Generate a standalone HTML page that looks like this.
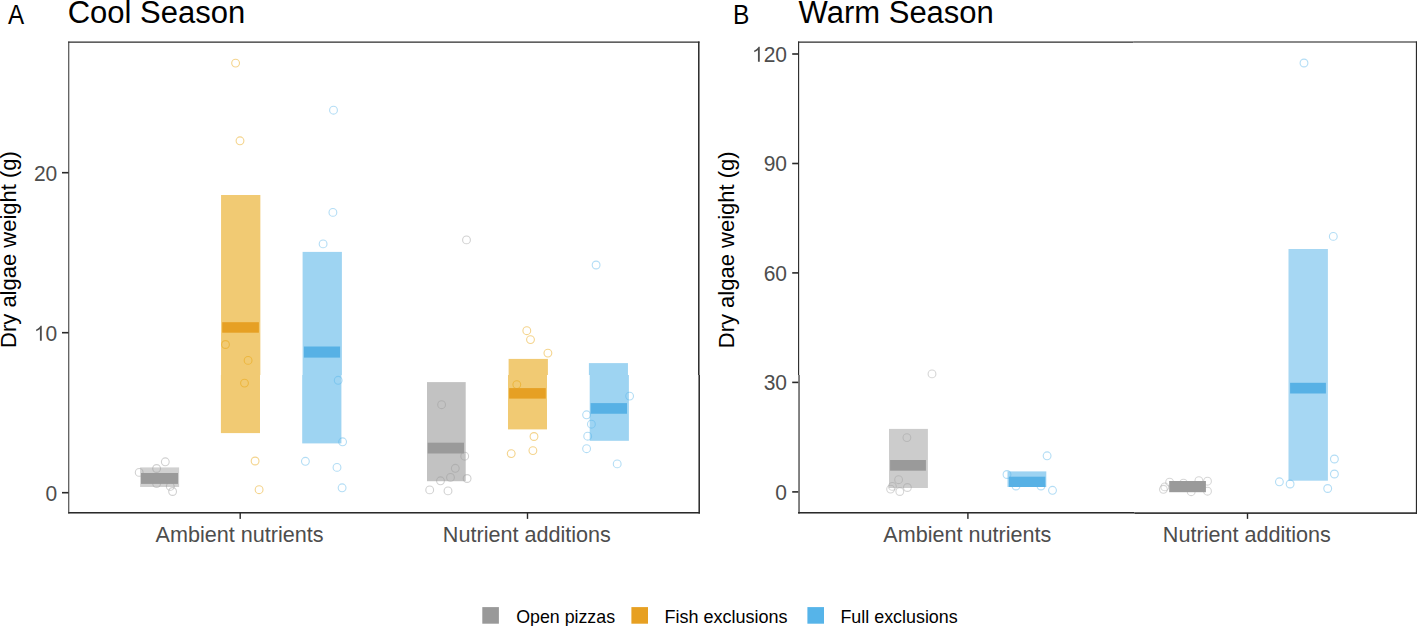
<!DOCTYPE html>
<html><head><meta charset="utf-8"><style>
html,body{margin:0;padding:0;background:#fff;width:1417px;height:626px;overflow:hidden}
svg{display:block;font-family:"Liberation Sans",sans-serif}
</style></head><body><svg width="1417" height="626" viewBox="0 0 1417 626" font-family="Liberation Sans, sans-serif"><circle cx="165.3" cy="461.8" r="3.9" fill="none" stroke="#999999" stroke-opacity="0.45" stroke-width="1.1"/><circle cx="156.6" cy="468.5" r="3.9" fill="none" stroke="#999999" stroke-opacity="0.45" stroke-width="1.1"/><circle cx="139.2" cy="472.4" r="3.9" fill="none" stroke="#999999" stroke-opacity="0.45" stroke-width="1.1"/><circle cx="156.6" cy="483.5" r="3.9" fill="none" stroke="#999999" stroke-opacity="0.45" stroke-width="1.1"/><circle cx="170.3" cy="486.4" r="3.9" fill="none" stroke="#999999" stroke-opacity="0.45" stroke-width="1.1"/><circle cx="172.6" cy="491.5" r="3.9" fill="none" stroke="#999999" stroke-opacity="0.45" stroke-width="1.1"/><circle cx="466.5" cy="239.9" r="3.9" fill="none" stroke="#999999" stroke-opacity="0.45" stroke-width="1.1"/><circle cx="441.6" cy="404.7" r="3.9" fill="none" stroke="#999999" stroke-opacity="0.45" stroke-width="1.1"/><circle cx="464.7" cy="456.2" r="3.9" fill="none" stroke="#999999" stroke-opacity="0.45" stroke-width="1.1"/><circle cx="455.3" cy="468.3" r="3.9" fill="none" stroke="#999999" stroke-opacity="0.45" stroke-width="1.1"/><circle cx="450.5" cy="477.4" r="3.9" fill="none" stroke="#999999" stroke-opacity="0.45" stroke-width="1.1"/><circle cx="440.5" cy="480.8" r="3.9" fill="none" stroke="#999999" stroke-opacity="0.45" stroke-width="1.1"/><circle cx="467.1" cy="478.5" r="3.9" fill="none" stroke="#999999" stroke-opacity="0.45" stroke-width="1.1"/><circle cx="429.7" cy="489.9" r="3.9" fill="none" stroke="#999999" stroke-opacity="0.45" stroke-width="1.1"/><circle cx="448.0" cy="490.9" r="3.9" fill="none" stroke="#999999" stroke-opacity="0.45" stroke-width="1.1"/><circle cx="235.6" cy="63.1" r="3.9" fill="none" stroke="#E69F00" stroke-opacity="0.45" stroke-width="1.1"/><circle cx="240.0" cy="140.8" r="3.9" fill="none" stroke="#E69F00" stroke-opacity="0.45" stroke-width="1.1"/><circle cx="225.5" cy="344.5" r="3.9" fill="none" stroke="#E69F00" stroke-opacity="0.45" stroke-width="1.1"/><circle cx="248.1" cy="360.4" r="3.9" fill="none" stroke="#E69F00" stroke-opacity="0.45" stroke-width="1.1"/><circle cx="244.5" cy="383.1" r="3.9" fill="none" stroke="#E69F00" stroke-opacity="0.45" stroke-width="1.1"/><circle cx="255.1" cy="461.0" r="3.9" fill="none" stroke="#E69F00" stroke-opacity="0.45" stroke-width="1.1"/><circle cx="259.1" cy="489.7" r="3.9" fill="none" stroke="#E69F00" stroke-opacity="0.45" stroke-width="1.1"/><circle cx="526.8" cy="330.7" r="3.9" fill="none" stroke="#E69F00" stroke-opacity="0.45" stroke-width="1.1"/><circle cx="530.5" cy="339.6" r="3.9" fill="none" stroke="#E69F00" stroke-opacity="0.45" stroke-width="1.1"/><circle cx="547.9" cy="353.1" r="3.9" fill="none" stroke="#E69F00" stroke-opacity="0.45" stroke-width="1.1"/><circle cx="516.8" cy="384.6" r="3.9" fill="none" stroke="#E69F00" stroke-opacity="0.45" stroke-width="1.1"/><circle cx="534.0" cy="436.5" r="3.9" fill="none" stroke="#E69F00" stroke-opacity="0.45" stroke-width="1.1"/><circle cx="532.9" cy="450.6" r="3.9" fill="none" stroke="#E69F00" stroke-opacity="0.45" stroke-width="1.1"/><circle cx="511.2" cy="453.6" r="3.9" fill="none" stroke="#E69F00" stroke-opacity="0.45" stroke-width="1.1"/><circle cx="333.5" cy="110.2" r="3.9" fill="none" stroke="#56B4E9" stroke-opacity="0.45" stroke-width="1.1"/><circle cx="332.9" cy="212.4" r="3.9" fill="none" stroke="#56B4E9" stroke-opacity="0.45" stroke-width="1.1"/><circle cx="323.1" cy="243.9" r="3.9" fill="none" stroke="#56B4E9" stroke-opacity="0.45" stroke-width="1.1"/><circle cx="338.2" cy="380.3" r="3.9" fill="none" stroke="#56B4E9" stroke-opacity="0.45" stroke-width="1.1"/><circle cx="342.6" cy="441.8" r="3.9" fill="none" stroke="#56B4E9" stroke-opacity="0.45" stroke-width="1.1"/><circle cx="305.4" cy="461.3" r="3.9" fill="none" stroke="#56B4E9" stroke-opacity="0.45" stroke-width="1.1"/><circle cx="337.0" cy="467.4" r="3.9" fill="none" stroke="#56B4E9" stroke-opacity="0.45" stroke-width="1.1"/><circle cx="342.1" cy="487.8" r="3.9" fill="none" stroke="#56B4E9" stroke-opacity="0.45" stroke-width="1.1"/><circle cx="596.1" cy="265.0" r="3.9" fill="none" stroke="#56B4E9" stroke-opacity="0.45" stroke-width="1.1"/><circle cx="629.6" cy="396.1" r="3.9" fill="none" stroke="#56B4E9" stroke-opacity="0.45" stroke-width="1.1"/><circle cx="586.6" cy="414.8" r="3.9" fill="none" stroke="#56B4E9" stroke-opacity="0.45" stroke-width="1.1"/><circle cx="591.4" cy="424.2" r="3.9" fill="none" stroke="#56B4E9" stroke-opacity="0.45" stroke-width="1.1"/><circle cx="587.7" cy="436.2" r="3.9" fill="none" stroke="#56B4E9" stroke-opacity="0.45" stroke-width="1.1"/><circle cx="586.6" cy="448.7" r="3.9" fill="none" stroke="#56B4E9" stroke-opacity="0.45" stroke-width="1.1"/><circle cx="617.2" cy="463.9" r="3.9" fill="none" stroke="#56B4E9" stroke-opacity="0.45" stroke-width="1.1"/><circle cx="932.0" cy="373.9" r="3.9" fill="none" stroke="#999999" stroke-opacity="0.4" stroke-width="1.1"/><circle cx="906.9" cy="437.6" r="3.9" fill="none" stroke="#999999" stroke-opacity="0.4" stroke-width="1.1"/><circle cx="898.6" cy="479.7" r="3.9" fill="none" stroke="#999999" stroke-opacity="0.4" stroke-width="1.1"/><circle cx="892.4" cy="486.4" r="3.9" fill="none" stroke="#999999" stroke-opacity="0.4" stroke-width="1.1"/><circle cx="890.6" cy="489.1" r="3.9" fill="none" stroke="#999999" stroke-opacity="0.4" stroke-width="1.1"/><circle cx="899.8" cy="491.5" r="3.9" fill="none" stroke="#999999" stroke-opacity="0.4" stroke-width="1.1"/><circle cx="907.4" cy="487.5" r="3.9" fill="none" stroke="#999999" stroke-opacity="0.4" stroke-width="1.1"/><circle cx="1169.6" cy="482.2" r="3.9" fill="none" stroke="#999999" stroke-opacity="0.4" stroke-width="1.1"/><circle cx="1164.8" cy="486.9" r="3.9" fill="none" stroke="#999999" stroke-opacity="0.4" stroke-width="1.1"/><circle cx="1163.4" cy="489.3" r="3.9" fill="none" stroke="#999999" stroke-opacity="0.4" stroke-width="1.1"/><circle cx="1183.5" cy="483.1" r="3.9" fill="none" stroke="#999999" stroke-opacity="0.4" stroke-width="1.1"/><circle cx="1198.9" cy="480.7" r="3.9" fill="none" stroke="#999999" stroke-opacity="0.4" stroke-width="1.1"/><circle cx="1207.5" cy="481.2" r="3.9" fill="none" stroke="#999999" stroke-opacity="0.4" stroke-width="1.1"/><circle cx="1207.5" cy="491.2" r="3.9" fill="none" stroke="#999999" stroke-opacity="0.4" stroke-width="1.1"/><circle cx="1191.2" cy="491.7" r="3.9" fill="none" stroke="#999999" stroke-opacity="0.4" stroke-width="1.1"/><circle cx="1047.1" cy="455.8" r="3.9" fill="none" stroke="#56B4E9" stroke-opacity="0.45" stroke-width="1.1"/><circle cx="1007.0" cy="474.5" r="3.9" fill="none" stroke="#56B4E9" stroke-opacity="0.45" stroke-width="1.1"/><circle cx="1052.5" cy="490.3" r="3.9" fill="none" stroke="#56B4E9" stroke-opacity="0.45" stroke-width="1.1"/><circle cx="1016" cy="486" r="3.9" fill="none" stroke="#56B4E9" stroke-opacity="0.45" stroke-width="1.1"/><circle cx="1041" cy="486" r="3.9" fill="none" stroke="#56B4E9" stroke-opacity="0.45" stroke-width="1.1"/><circle cx="1304.0" cy="63.0" r="3.9" fill="none" stroke="#56B4E9" stroke-opacity="0.45" stroke-width="1.1"/><circle cx="1333.3" cy="236.4" r="3.9" fill="none" stroke="#56B4E9" stroke-opacity="0.45" stroke-width="1.1"/><circle cx="1334.4" cy="459.0" r="3.9" fill="none" stroke="#56B4E9" stroke-opacity="0.45" stroke-width="1.1"/><circle cx="1334.4" cy="474.0" r="3.9" fill="none" stroke="#56B4E9" stroke-opacity="0.45" stroke-width="1.1"/><circle cx="1279.4" cy="481.8" r="3.9" fill="none" stroke="#56B4E9" stroke-opacity="0.45" stroke-width="1.1"/><circle cx="1290.1" cy="484.0" r="3.9" fill="none" stroke="#56B4E9" stroke-opacity="0.45" stroke-width="1.1"/><circle cx="1327.7" cy="488.5" r="3.9" fill="none" stroke="#56B4E9" stroke-opacity="0.45" stroke-width="1.1"/><rect x="140.1" y="467.4" width="39.0" height="19.6" fill="rgba(153,153,153,0.46)"/><rect x="141.0" y="473.0" width="37.0" height="10.9" fill="#9A9A9A"/><rect x="221.05" y="195.0" width="39.3" height="180.0" fill="rgba(230,159,0,0.55)"/><rect x="220.9" y="375" width="39.1" height="58.1" fill="rgba(230,159,0,0.55)"/><rect x="222.2" y="322.2" width="36.7" height="10.5" fill="#E6A024"/><rect x="302.6" y="251.9" width="39.3" height="123.1" fill="rgba(86,180,233,0.575)"/><rect x="302.2" y="375" width="39.2" height="68.4" fill="rgba(86,180,233,0.575)"/><rect x="303.9" y="346.5" width="36.2" height="11.1" fill="#57B1E5"/><rect x="427.0" y="382.1" width="38.7" height="99.1" fill="rgba(153,153,153,0.6)"/><rect x="427.7" y="442.7" width="36.3" height="10.8" fill="#9A9A9A"/><rect x="508.6" y="358.9" width="39.3" height="16.1" fill="rgba(230,159,0,0.55)"/><rect x="508.0" y="375" width="39.0" height="54.4" fill="rgba(230,159,0,0.55)"/><rect x="509.1" y="388.1" width="36.7" height="10.5" fill="#E6A024"/><rect x="588.9" y="363.1" width="39.05" height="11.9" fill="rgba(86,180,233,0.575)"/><rect x="589.7" y="375" width="39.2" height="65.8" fill="rgba(86,180,233,0.575)"/><rect x="590.6" y="403.1" width="36.4" height="10.65" fill="#57B1E5"/><rect x="889.0" y="428.9" width="38.9" height="59.1" fill="rgba(153,153,153,0.5)"/><rect x="890.1" y="460.0" width="35.8" height="10.7" fill="#9A9A9A"/><rect x="1007.5" y="471.4" width="38.8" height="15.6" fill="rgba(86,180,233,0.58)"/><rect x="1008.9" y="476.7" width="36.4" height="10.3" fill="#57B1E5"/><rect x="1169.2" y="481.0" width="36.7" height="11.2" fill="#9A9A9A"/><rect x="1288.5" y="249.0" width="39.4" height="231.7" fill="rgba(86,180,233,0.53)"/><rect x="1290.1" y="382.8" width="35.8" height="10.7" fill="#57B1E5"/><rect x="68.28" y="41.5" width="631.26" height="1.25" fill="#2D2D2D"/><rect x="68.28" y="41.5" width="0.98" height="472.04" fill="#2A2A2A"/><rect x="68.28" y="512.0" width="631.68" height="1.54" fill="#2A2A2A"/><rect x="698.04" y="41.5" width="1.5" height="333.5" fill="#2A2A2A"/><rect x="698.44" y="375" width="1.52" height="138.54" fill="#2A2A2A"/><rect x="798.04" y="41.5" width="335.16" height="1.25" fill="#2D2D2D"/><rect x="1133.2" y="41.45" width="283.8" height="1.1" fill="#2D2D2D"/><rect x="798.04" y="41.5" width="1.12" height="333.5" fill="#2A2A2A"/><rect x="798.45" y="375" width="1.15" height="138.54" fill="#2A2A2A"/><rect x="798.04" y="512.0" width="336.36" height="1.54" fill="#2A2A2A"/><rect x="1134.4" y="512.3" width="282.6" height="1.6" fill="#2A2A2A"/><rect x="1415.86" y="41.5" width="1.14" height="472.4" fill="#2A2A2A"/><rect x="62.0" y="171.89999999999998" width="6.5" height="1.6" fill="#2A2A2A"/><rect x="62.0" y="331.9" width="6.5" height="1.6" fill="#2A2A2A"/><rect x="62.0" y="491.9" width="6.5" height="1.6" fill="#2A2A2A"/><rect x="792.2" y="53.2" width="6.1" height="1.6" fill="#2A2A2A"/><rect x="792.2" y="162.7" width="6.1" height="1.6" fill="#2A2A2A"/><rect x="792.2" y="272.09999999999997" width="6.1" height="1.6" fill="#2A2A2A"/><rect x="792.2" y="381.59999999999997" width="6.1" height="1.6" fill="#2A2A2A"/><rect x="792.2" y="491.09999999999997" width="6.1" height="1.6" fill="#2A2A2A"/><rect x="239.5" y="513" width="1.4" height="5.9" fill="#2A2A2A"/><rect x="526.8" y="513" width="1.4" height="5.9" fill="#2A2A2A"/><rect x="967.1999999999999" y="513" width="1.4" height="5.9" fill="#2A2A2A"/><rect x="1246.8" y="513" width="1.4" height="5.9" fill="#2A2A2A"/><text x="8.0" y="24.4" font-size="28.5" fill="#000" text-anchor="start" transform="translate(8.0,0) scale(0.85,1) translate(-8.0,0)">A</text><text x="733.1" y="24.3" font-size="27.3" fill="#000" text-anchor="start" transform="translate(733.1,0) scale(0.9,1) translate(-733.1,0)">B</text><text x="67.7" y="22.7" font-size="31" fill="#000" text-anchor="start" >Cool Season</text><text x="798.6" y="22.7" font-size="31" fill="#000" text-anchor="start" >Warm Season</text><text transform="translate(57.3,500.7) scale(1,1.055)" x="0" y="0" font-size="21" fill="#4D4D4D" text-anchor="end">0</text><path d="M763 0L583 0L583 1147Q518 1085 412 1023Q306 961 222 930L222 1104Q373 1175 486 1276Q599 1377 646 1472L763 1472Z" fill="#4D4D4D" transform="translate(33.94,340.7) scale(0.01025,-0.01017)"/><text transform="translate(57.3,340.7) scale(1,1.055)" x="0" y="0" font-size="21" fill="#4D4D4D" text-anchor="end">0</text><text transform="translate(57.3,180.7) scale(1,1.055)" x="0" y="0" font-size="21" fill="#4D4D4D" text-anchor="end">20</text><text transform="translate(787.0,499.59999999999997) scale(1,1.055)" x="0" y="0" font-size="21" fill="#4D4D4D" text-anchor="end">0</text><text transform="translate(787.0,390.09999999999997) scale(1,1.055)" x="0" y="0" font-size="21" fill="#4D4D4D" text-anchor="end">30</text><text transform="translate(787.0,280.59999999999997) scale(1,1.055)" x="0" y="0" font-size="21" fill="#4D4D4D" text-anchor="end">60</text><text transform="translate(787.0,171.20000000000002) scale(1,1.055)" x="0" y="0" font-size="21" fill="#4D4D4D" text-anchor="end">90</text><path d="M763 0L583 0L583 1147Q518 1085 412 1023Q306 961 222 930L222 1104Q373 1175 486 1276Q599 1377 646 1472L763 1472Z" fill="#4D4D4D" transform="translate(751.96,61.699999999999996) scale(0.01025,-0.01017)"/><text transform="translate(787.0,61.699999999999996) scale(1,1.055)" x="0" y="0" font-size="21" fill="#4D4D4D" text-anchor="end">20</text><text x="239.6" y="541.9" font-size="21.6" fill="#4D4D4D" text-anchor="middle" >Ambient nutrients</text><text x="526.9" y="541.9" font-size="21.6" fill="#4D4D4D" text-anchor="middle" >Nutrient additions</text><text x="967.3" y="541.9" font-size="21.6" fill="#4D4D4D" text-anchor="middle" >Ambient nutrients</text><text x="1246.9" y="541.9" font-size="21.6" fill="#4D4D4D" text-anchor="middle" >Nutrient additions</text><text transform="translate(15.7,249.5) rotate(-90)" x="0" y="0" font-size="22" fill="#000" text-anchor="middle">Dry algae weight (g)</text><text transform="translate(733.9,249.8) rotate(-90)" x="0" y="0" font-size="22" fill="#000" text-anchor="middle">Dry algae weight (g)</text><rect x="482.3" y="607.1" width="16.6" height="16.6" fill="#999999"/><rect x="631.4" y="607.1" width="16.6" height="16.6" fill="#E7A022"/><rect x="807.4" y="607.1" width="16.6" height="16.6" fill="#56B4E9"/><text x="516.2" y="622.8" font-size="17.8" fill="#000" text-anchor="start" >Open pizzas</text><text x="664.4" y="622.8" font-size="18" fill="#000" text-anchor="start" >Fish exclusions</text><text x="840.4" y="622.8" font-size="17.9" fill="#000" text-anchor="start" >Full exclusions</text></svg></body></html>
